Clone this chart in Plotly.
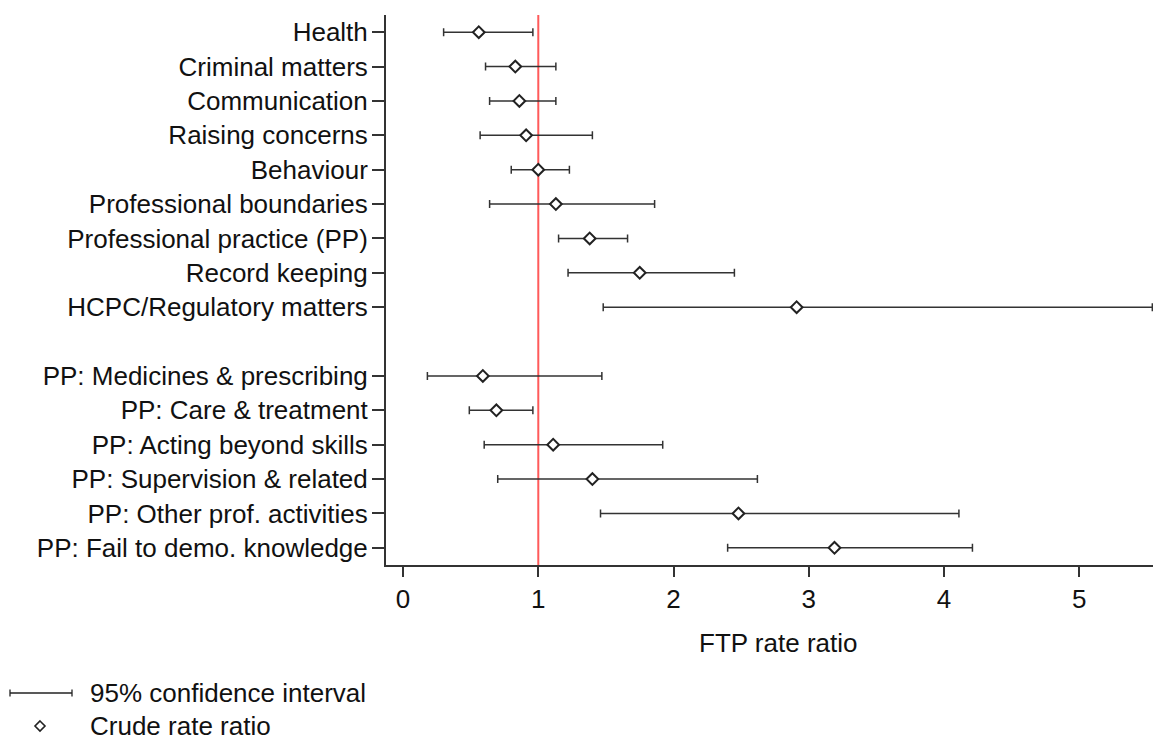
import plotly.graph_objects as go

# ---- data ----
main_labels = ["Health", "Criminal matters", "Communication", "Raising concerns", "Behaviour",
               "Professional boundaries", "Professional practice (PP)", "Record keeping",
               "HCPC/Regulatory matters"]
main_rr = [0.56, 0.83, 0.86, 0.91, 1.00, 1.13, 1.38, 1.75, 2.91]
main_lo = [0.30, 0.61, 0.64, 0.57, 0.80, 0.64, 1.15, 1.22, 1.48]
main_hi = [0.96, 1.13, 1.13, 1.40, 1.23, 1.86, 1.66, 2.45, 5.54]

pp_labels = ["PP: Medicines & prescribing", "PP: Care & treatment", "PP: Acting beyond skills",
             "PP: Supervision & related", "PP: Other prof. activities", "PP: Fail to demo. knowledge"]
pp_rr = [0.59, 0.69, 1.11, 1.40, 2.48, 3.19]
pp_lo = [0.18, 0.49, 0.60, 0.70, 1.46, 2.40]
pp_hi = [1.47, 0.96, 1.92, 2.62, 4.11, 4.21]

x_ticks = [0, 1, 2, 3, 4, 5]
x_title = "FTP rate ratio"
legend_ci = "95% confidence interval"
legend_rr = "Crude rate ratio"

# ---- assemble ----
labels = main_labels + pp_labels
rr = main_rr + pp_rr
lo = main_lo + pp_lo
hi = main_hi + pp_hi
# one blank slot between the two groups
ypos = list(range(len(main_labels))) + [len(main_labels) + 1 + i for i in range(len(pp_labels))]
n_slots = len(main_labels) + 1 + len(pp_labels)

W, H = 1158, 747
L, R, T, B = 386, 5, 15, 182
PW, PH = W - L - R, H - T - B

def px(x):
    return (x - L) / PW

def py(y):
    return (H - B - y) / PH

FONT = "Liberation Sans, Arial, sans-serif"
DARK = "#333333"

fig = go.Figure()
fig.add_trace(go.Scatter(
    x=rr, y=ypos, mode="markers",
    marker=dict(symbol="diamond", size=9, color="white", line=dict(color="#222222", width=2)),
    error_x=dict(type="data", symmetric=False,
                 array=[h - r for h, r in zip(hi, rr)],
                 arrayminus=[r - l for r, l in zip(rr, lo)],
                 color=DARK, thickness=1.5, width=4),
    showlegend=False, hoverinfo="skip",
))

# reference line at 1
fig.add_shape(type="line", xref="x", yref="paper", x0=1, x1=1, y0=0, y1=1,
              line=dict(color="#ff5a5a", width=2), layer="below")

# x-axis title
fig.add_annotation(text=x_title, xref="paper", yref="paper", x=px(777.5), y=py(643),
                   xanchor="center", yanchor="middle", showarrow=False,
                   font=dict(family=FONT, size=26, color="#111111"))

# legend (drawn manually)
ly1, ly2 = 693, 726
fig.add_shape(type="line", xref="paper", yref="paper", x0=px(10), x1=px(72), y0=py(ly1), y1=py(ly1),
              line=dict(color="#222222", width=1.3))
for cx in (10, 72):
    fig.add_shape(type="line", xref="paper", yref="paper", x0=px(cx), x1=px(cx),
                  y0=py(ly1 - 3.5), y1=py(ly1 + 3.5), line=dict(color="#222222", width=1.3))
dx, dy, d = 40, ly2, 5
path = "M {} {} L {} {} L {} {} L {} {} Z".format(
    px(dx), py(dy - d), px(dx + d), py(dy), px(dx), py(dy + d), px(dx - d), py(dy))
fig.add_shape(type="path", xref="paper", yref="paper", path=path,
              line=dict(color="#222222", width=1.6), fillcolor="white")
for yy, txt in ((ly1, legend_ci), (ly2, legend_rr)):
    fig.add_annotation(text=txt, xref="paper", yref="paper", x=px(88), y=py(yy),
                       xanchor="left", yanchor="middle", showarrow=False,
                       font=dict(family=FONT, size=26, color="#111111"))

fig.update_layout(
    width=W, height=H,
    margin=dict(l=L, r=R, t=T, b=B, pad=0),
    paper_bgcolor="white", plot_bgcolor="white",
    font=dict(family=FONT, size=26, color="#111111"),
    xaxis=dict(range=[-0.126, 5.545], tickvals=x_ticks, showgrid=False, zeroline=False,
               showline=True, linecolor=DARK, linewidth=2,
               ticks="outside", ticklen=10, tickwidth=2, tickcolor=DARK,
               tickfont=dict(family=FONT, size=26, color="#111111")),
    yaxis=dict(range=[n_slots - 0.5, -0.5], tickvals=ypos, ticktext=labels,
               showgrid=False, zeroline=False,
               showline=True, linecolor=DARK, linewidth=2,
               ticks="outside", ticklen=12, tickwidth=2, tickcolor=DARK,
               ticklabelstandoff=-1,
               tickfont=dict(family=FONT, size=26, color="#111111")),
)

fig.write_html("out.html")
